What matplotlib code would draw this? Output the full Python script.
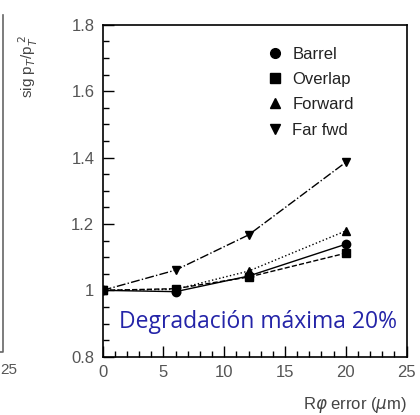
import matplotlib
matplotlib.use('Agg')
from matplotlib import pyplot as plt
from matplotlib.ticker import MultipleLocator

# R-phi error (um) and relative pT resolution for each region
rphi_err = [0, 6, 12, 20]
barrel = [1.0, 0.996, 1.043, 1.139]
overlap = [1.0, 1.005, 1.040, 1.112]
forward = [1.0, 1.003, 1.058, 1.179]
far_fwd = [1.0, 1.061, 1.167, 1.386]

series = [
    ('Barrel', barrel, 'o', '-'),
    ('Overlap', overlap, 's', '--'),
    ('Forward', forward, '^', ':'),
    ('Far fwd', far_fwd, 'v', '-.'),
]

plt.rcParams['font.family'] = ['Liberation Sans', 'DejaVu Sans']

fig = plt.figure(figsize=(4.2, 4.15), dpi=100)
ax = fig.add_axes([0.2445, 0.1405, 0.7235, 0.7995])

for name, vals, mk, ls in series:
    ax.plot(rphi_err, vals, color='black', linestyle=ls, linewidth=1.0,
            marker=mk, markersize=6, label=name)

ax.set_xlim(0, 25)
ax.set_ylim(0.8, 1.8)
ax.xaxis.set_major_locator(MultipleLocator(5))
ax.xaxis.set_minor_locator(MultipleLocator(1))
ax.yaxis.set_major_locator(MultipleLocator(0.2))
ax.yaxis.set_minor_locator(MultipleLocator(0.05))
ax.tick_params(which='major', direction='in', length=8, width=1, labelsize=12,
               labelcolor='#555555', top=False, right=False, pad=6)
ax.tick_params(which='minor', direction='in', length=4, width=1, top=False, right=False)
ax.set_xticks([0, 5, 10, 15, 20, 25])
ax.set_xticklabels(['0', '5', '10', '15', '20', '25'])
ax.set_yticks([0.8, 1.0, 1.2, 1.4, 1.6, 1.8])
ax.set_yticklabels(['0.8', '1', '1.2', '1.4', '1.6', '1.8'])
for s in ax.spines.values():
    s.set_linewidth(1.2)

# legend: markers only
handles = [plt.Line2D([], [], color='black', marker=mk, linestyle='None', markersize=7)
           for _, _, mk, _ in series]
ax.legend(handles, [s[0] for s in series], loc='upper left', bbox_to_anchor=(0.49, 0.98),
          frameon=False, fontsize=12, handletextpad=0.55, labelspacing=0.62,
          handlelength=1.0, labelcolor='#222222')

fig.text(0.067, 0.84, r'sig p$_T$/p$_T^{\ 2}$', rotation=90, ha='center', va='center',
         fontsize=11, color='#444444')
fig.text(0.968, 0.025, r'R$\varphi$ error ($\mu$m)', ha='right', va='center',
         fontsize=12, color='#444444')

ax.text(0.055, 0.105, 'Degradación máxima 20%', transform=ax.transAxes,
        color='#2424a8', fontsize=16.5, fontfamily='Open Sans', ha='left', va='center')

# edge of the neighbouring panel in the cropped slide
fig.add_artist(plt.Line2D([0.008, 0.008, -0.01], [0.965, 0.152, 0.152],
                          transform=fig.transFigure, color='#666666', linewidth=1.2))
fig.text(0.001, 0.108, '25', fontsize=11, color='#555555', ha='left', va='center')

fig.savefig('out.png', dpi=100)
